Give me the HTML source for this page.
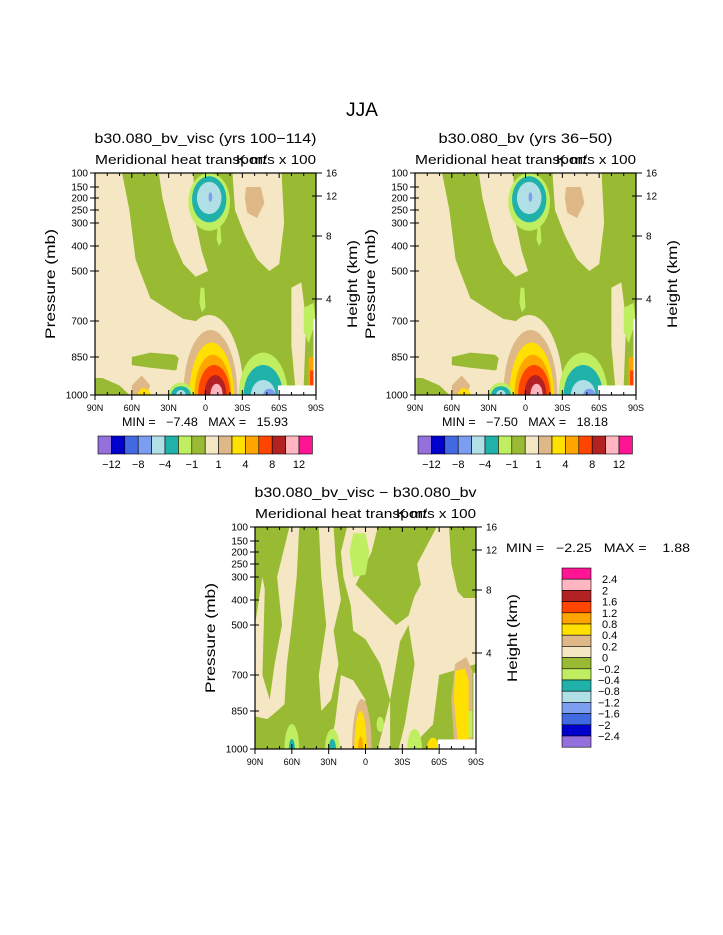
<!DOCTYPE html>
<html><head><meta charset="utf-8"><style>
html,body{margin:0;padding:0;background:#fff;}
svg{display:block;font-family:"Liberation Sans","DejaVu Sans",sans-serif;}
text{white-space:pre;}
</style></head><body>
<svg id="c" width="723" height="935" viewBox="0 0 723 935">
<text x="362" y="116" font-size="19" text-anchor="middle" fill="#000" textLength="32" lengthAdjust="spacingAndGlyphs">JJA</text>
</svg>
<script>
// ---- data ----
const pTicks = [100,150,200,250,300,400,500,700,850,1000];
const pOffsets = [0,14,25,37,50,73,98,148,184,222]; // axis mapping (pixel offsets from top)
const hTicks = [16,12,8,4];
const hOffsets = [0,23,63,126];
const latTicks = [90,60,30,0,-30,-60,-90];
const latLabels = ["90N","60N","30N","0","30S","60S","90S"];
const palette = ["#9370DB","#0000CD","#4169E1","#7B9EF0","#B0E0E6","#20B2AA","#BFEF60","#99BB33","#F5E6C4","#DEB887","#FFE000","#FFA500","#FF4500","#B22222","#FFB6C1","#FF1493"];
const fullLevelLabels = ["−12","−8","−4","−1","1","4","8","12"];
const diffLevelLabels = ["2.4","2","1.6","1.2","0.8","0.4","0.2","0","−0.2","−0.4","−0.8","−1.2","−1.6","−2","−2.4"];
// field regions: [colorIndex, [[lat,p],...]]
const fullPolys = [
 [8, [[90,100],[68,100],[62,250],[57,450],[45,600],[30,650],[18,690],[8,700],[6,800],[10,880],[22,950],[30,1000],[62,1000],[70,960],[84,930],[90,930]]],
 [7, [[60,850],[45,830],[25,840],[15,880],[25,900],[45,890],[60,880]]],
 [8, [[38,100],[10,100],[8,300],[3,420],[-2,500],[8,520],[18,470],[26,380],[30,300],[35,200]]],
 [8, [[-22,100],[-62,100],[-64,300],[-60,470],[-52,500],[-42,450],[-32,350],[-24,250]]],
 [9, [[-33,150],[-45,150],[-48,220],[-42,280],[-34,260],[-32,200]]],
 [6, [[-10,300],[-12,300],[-13,380],[-11,400],[-9,370]]],
 [6, [[4,560],[1,560],[0,640],[3,660],[5,620]]],
 [8, [[-70,560],[-78,540],[-82,700],[-80,960],[-73,960],[-70,800]]],
 [6, [[-80,640],[-88,620],[-90,700],[-84,790],[-80,740]]],
 [9, [[48,1000],[60,1000],[60,960],[52,920],[45,960]]],
 [10,[[44,1000],[56,1000],[52,970],[47,975]]],
 [11,[[-84,850],[-88,850],[-88,990],[-84,990]]],
 [12,[[-85,900],[-88,900],[-88,980],[-85,980]]]
];
// ellipses: [colorIndex, lat, p, latRadius, pTop, pBottom]
const fullBlobs = [
 [6,-3,215,17,100,330],[5,-3,205,14,110,295],[4,-3,200,10,135,265],[3,-4,195,1.5,175,215],
 [8,-3,1000,28,680,1320],[9,-4,1000,22,740,1260],[10,-5,1000,18,790,1210],[11,-6,1000,15,840,1160],
 [12,-7,1000,13,880,1120],[13,-8,1000,9,920,1080],[14,-9,1000,5,955,1045],
 [6,-47,1000,20,830,1170],[5,-47,1000,16,880,1120],[4,-47,1000,10,940,1060],[3,-52,1000,5,975,1025],
 [6,20,1000,10,950,1050],[5,20,1000,8,965,1035],[4,20,1000,4,980,1020]
];
const diffPolys = [
 [8, [[90,500],[84,300],[82,350],[84,700],[78,800],[74,650],[68,500],[72,300],[62,100],[54,100],[56,300],[60,500],[64,650],[66,820],[72,850],[80,880],[90,870]]],
 [8, [[38,100],[26,100],[24,250],[20,400],[26,520],[22,650],[28,800],[36,850],[38,700],[32,500],[36,300]]],
 [8, [[15,100],[-10,100],[-5,200],[8,330],[-15,450],[-25,500],[-35,460],[-40,380],[-45,330],[-42,250],[-52,150],[-58,100],[-68,100],[-70,250],[-75,360],[-80,390],[-90,390],[-90,650],[-60,700],[-55,900],[-45,950],[-42,1000],[-10,1000],[-20,800],[-12,650],[0,550],[10,520],[12,420],[18,300],[20,200]]],
 [7, [[-28,560],[-35,500],[-40,650],[-32,900],[-27,1000],[-20,1000],[-20,800]]],
 [8, [[20,700],[10,720],[0,800],[5,950],[10,1000],[30,1000],[25,900]]],
 [6, [[10,120],[0,120],[-3,200],[0,290],[10,300],[13,200]]],
 [9, [[-73,650],[-82,620],[-87,680],[-87,960],[-72,960],[-70,800]]],
 [10,[[-73,680],[-81,670],[-84,720],[-84,960],[-75,960],[-72,800]]],
 [6, [[-84,850],[-87,850],[-87,950],[-84,950]]]
];
const diffBlobs = [
 [9,3,1000,8,800,1200],[10,4,1000,5,850,1150],[11,4,1000,2,950,1050],
 [6,60,1000,6,900,1100],[5,60,1000,2.5,960,1040],
 [6,27,1000,6,920,1080],[5,27,1000,3,960,1040],
 [6,-40,1000,6,920,1080],[10,-55,1000,5,955,1045],[6,-12,900,3,880,930]
];
// ---- panels ----
const panels = [
 {name:"visc",x0:95,y0:173,w:221,h:222,bg:7,polys:fullPolys,blobs:fullBlobs,title:"b30.080_bv_visc (yrs 100−114)",tlen:222,minmax:"MIN =   −7.48   MAX =   15.93",white:true},
 {name:"control",x0:415,y0:173,w:221,h:222,bg:7,polys:fullPolys,blobs:fullBlobs,title:"b30.080_bv (yrs 36−50)",tlen:174,minmax:"MIN =   −7.50   MAX =   18.18",white:true},
 {name:"difference",x0:255,y0:527,w:221,h:222,bg:7,polys:diffPolys,blobs:diffBlobs,title:"b30.080_bv_visc − b30.080_bv",tlen:222,minmax:null,white:true}
];
const svg = document.getElementById('c');
const NS = "http://www.w3.org/2000/svg";
function mk(tag, attrs, parent){const e=document.createElementNS(NS,tag);for(const k in attrs)e.setAttribute(k,attrs[k]);(parent||svg).appendChild(e);return e;}
function yOf(p,P){
  if(p<=pTicks[0]) return P.y0+pOffsets[0];
  for(let i=0;i<pTicks.length-1;i++){
    if(p<=pTicks[i+1]){const t=(Math.log(p)-Math.log(pTicks[i]))/(Math.log(pTicks[i+1])-Math.log(pTicks[i]));return P.y0+pOffsets[i]+t*(pOffsets[i+1]-pOffsets[i]);}
  }
  const n=pTicks.length-1;return P.y0+pOffsets[n]+(p-pTicks[n])*0.25;
}
function xOf(lat,P){return P.x0+(90-lat)/180*P.w;}
panels.forEach(P=>{
  const g=mk('g',{});
  
  
  const cid='clip-'+P.name;
  const cp=mk('clipPath',{id:cid},g);mk('rect',{x:P.x0,y:P.y0,width:P.w,height:P.h},cp);
  const f=mk('g',{'clip-path':'url(#'+cid+')'},g);
  
  
  mk('rect',{x:P.x0,y:P.y0,width:P.w,height:P.h,fill:palette[P.bg]},f);
  P.polys.forEach(([ci,pts])=>{
    const d=pts.map((q,i)=>(i?'L':'M')+xOf(q[0],P).toFixed(1)+' '+yOf(q[1],P).toFixed(1)).join(' ')+'Z';
    const e=mk('path',{d:d,fill:palette[ci]},f);
    
    
  });
  P.blobs.forEach(([ci,lat,p,rl,pt,pb])=>{
    const yt=yOf(pt,P), yb=yOf(Math.min(pb,1000),P)+(pb>1000?(pb-1000)*0.25:0);
    const cy=yOf(p,P);
    const ry=Math.max(cy-yt,yb-cy);
    const e=mk('ellipse',{cx:xOf(lat,P),cy:cy,rx:rl/180*P.w,ry:ry,fill:palette[ci]},f);
    
    
  });
  if(P.white){
    mk('rect',{x:xOf(-59,P),y:yOf(960,P),width:P.w,height:20,fill:'#fff'},f);
    mk('rect',{x:xOf(-88,P),y:yOf(690,P),width:10,height:P.h,fill:'#fff'},f);
  }
  mk('rect',{x:P.x0,y:P.y0,width:P.w,height:P.h,fill:'none',stroke:'#000','stroke-width':1.2},g);
  pTicks.forEach((p,i)=>{
    const y=P.y0+pOffsets[i];
    mk('line',{x1:P.x0-5,y1:y,x2:P.x0+4,y2:y,stroke:'#000'},g);
    const t=mk('text',{x:P.x0-7,y:y+3.5,'font-size':10,'text-anchor':'end'},g);t.textContent=p;
    
    
  });
  hTicks.forEach((h,i)=>{
    const y=P.y0+hOffsets[i];
    mk('line',{x1:P.x0+P.w-4,y1:y,x2:P.x0+P.w+6,y2:y,stroke:'#000'},g);
    const t=mk('text',{x:P.x0+P.w+10,y:y+3.5,'font-size':10},g);t.textContent=h;
    
    
  });
  for(let lat=90;lat>=-90;lat-=10){
    const x=xOf(lat,P),maj=lat%30===0;
    mk('line',{x1:x,y1:P.y0+P.h+(maj?5:0),x2:x,y2:P.y0+P.h-(maj?5:3),stroke:'#000'},g);
    mk('line',{x1:x,y1:P.y0,x2:x,y2:P.y0+(maj?5:3),stroke:'#000'},g);
  }
  latTicks.forEach((lat,i)=>{
    const t=mk('text',{x:xOf(lat,P),y:P.y0+P.h+16,'font-size':9,'text-anchor':'middle'},g);t.textContent=latLabels[i];
    
    
  });
  const cx=P.x0+P.w/2;
  let t=mk('text',{x:cx,y:P.y0-30,'font-size':14,'text-anchor':'middle',textLength:P.tlen,lengthAdjust:'spacingAndGlyphs'},g);t.textContent=P.title;
  
  
  t=mk('text',{x:P.x0,y:P.y0-9,'font-size':13,textLength:172,lengthAdjust:'spacingAndGlyphs'},g);t.textContent="Meridional heat transport";
  
  
  t=mk('text',{x:P.x0+P.w-80,y:P.y0-9,'font-size':13,textLength:80,lengthAdjust:'spacingAndGlyphs'},g);t.textContent="K m/s x 100";
  
  
  const ly=P.y0+P.h/2;
  t=mk('text',{x:P.x0-40,y:ly,'font-size':14,'text-anchor':'middle',textLength:110,lengthAdjust:'spacingAndGlyphs',transform:'rotate(-90 '+(P.x0-40)+' '+ly+')'},g);t.textContent="Pressure (mb)";
  
  
  const rx=P.x0+P.w+41;
  t=mk('text',{x:rx,y:ly,'font-size':14,'text-anchor':'middle',textLength:88,lengthAdjust:'spacingAndGlyphs',transform:'rotate(-90 '+rx+' '+ly+')'},g);t.textContent="Height (km)";
  
  
  if(P.minmax){
    t=mk('text',{x:P.x0+27,y:P.y0+P.h+31,'font-size':11.5,textLength:166,lengthAdjust:'spacingAndGlyphs'},g);t.textContent=P.minmax;
    
    
    const bx=P.x0+3,by=P.y0+P.h+41,bw=13.4,bh=18;
    palette.forEach((c,i)=>{
      const r=mk('rect',{x:bx+i*bw,y:by,width:bw,height:bh,fill:c,stroke:'#000','stroke-width':0.6},g);
      
      
    });
    fullLevelLabels.forEach((s,i)=>{
      const tt=mk('text',{x:bx+(2*i+1)*bw,y:by+bh+14,'font-size':11,'text-anchor':'middle'},g);tt.textContent=s;
      
      
    });
  }
});
let t=mk('text',{x:506,y:552,'font-size':11.5,textLength:184,lengthAdjust:'spacingAndGlyphs'});t.textContent="MIN =   −2.25   MAX =    1.88";


const vx=562,vy=568,vw=29,vh=11.2;
palette.slice().reverse().forEach((c,i)=>{
  const r=mk('rect',{x:vx,y:vy+i*vh,width:vw,height:vh,fill:c,stroke:'#000','stroke-width':0.6});
  
  
});
diffLevelLabels.forEach((s,i)=>{
  const tt=mk('text',{x:598+(s[0]==='−'?0:4),y:vy+(i+1)*vh+4,'font-size':11});tt.textContent=s;
  
  
});
</script>
</body></html>
